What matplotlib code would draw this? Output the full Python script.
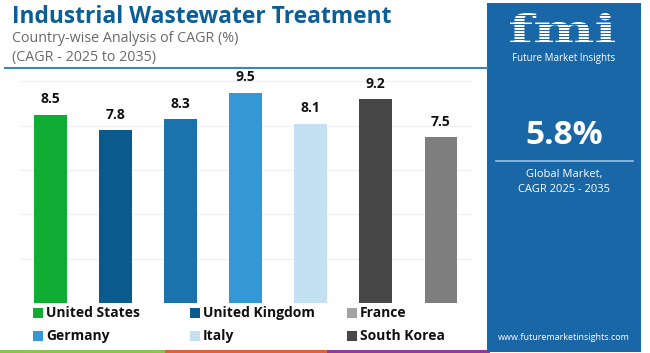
import matplotlib.pyplot as plt
from matplotlib.patches import Rectangle, PathPatch
from matplotlib.lines import Line2D
from matplotlib.textpath import TextPath
from matplotlib.font_manager import FontProperties
from matplotlib.transforms import Affine2D

plt.rcParams['font.family'] = ['Open Sans', 'DejaVu Sans']

# Data
bar_values = [8.5, 7.8, 8.3, 9.5, 8.1, 9.2, 7.5]
bar_colors = ['#10ad35', '#0b5a8e', '#1b73ad', '#3497d6', '#c3e1f3', '#474747', '#7f7f7f']
legend_names = ['United States', 'United Kingdom', 'France', 'Germany', 'Italy', 'South Korea']
legend_colors = ['#10ad35', '#0b5a8e', '#a3a3a3', '#3497d6', '#c3e1f3', '#474747']

W, H = 650, 353


def fx(px):
    return px / W


def fy(py):
    return 1 - py / H


fig = plt.figure(figsize=(6.5, 3.53), dpi=100)

# plot area
ax = fig.add_axes([fx(20), fy(303), fx(452), 232.6 / H])
x = list(range(len(bar_values)))
bars = ax.bar(x, bar_values, width=0.5, color=bar_colors, zorder=3)
for b, v in zip(bars, bar_values):
    ax.annotate(f'{v}', (b.get_x() + b.get_width() / 2, v), xytext=(0, 6),
                textcoords='offset points', ha='center', va='bottom',
                fontsize=10, fontweight='bold', color='#111111')
ax.set_xlim(-0.47, 6.48)
ax.set_ylim(0, 10.5)
ax.set_yticks([0, 2, 4, 6, 8, 10])
ax.grid(axis='y', color='#f0f0f0', linewidth=1, zorder=0)
ax.tick_params(left=False, bottom=False, labelleft=False, labelbottom=False)
for s in ax.spines.values():
    s.set_visible(False)

# legend, 3 columns, row-major, placed by hand
for i, (name, col) in enumerate(zip(legend_names, legend_colors)):
    r, c = divmod(i, 3)
    x0 = 33 + 157 * c
    yc = 313 + 23 * r
    fig.add_artist(Rectangle((fx(x0), fy(yc + 4.5)), fx(9.5), 9.5 / H, color=col, lw=0))
    fig.text(fx(x0 + 13), fy(yc), name, fontsize=10, fontweight='bold',
             color='#111111', ha='left', va='center')

# titles
fig.text(fx(12), fy(17), 'Industrial Wastewater Treatment', fontsize=16.4,
         fontweight='bold', color='#0b5f96', va='center', ha='left')
fig.text(fx(12), fy(38), 'Country-wise Analysis of CAGR (%)', fontsize=10.3,
         color='#6a6a6a', va='center', ha='left')
fig.text(fx(12), fy(57), '(CAGR - 2025 to 2035)', fontsize=10.3,
         color='#6a6a6a', va='center', ha='left')
fig.add_artist(Line2D([fx(5), fx(487)], [fy(67.5), fy(67.5)], color='#3a86b9', linewidth=1.5))

# bottom colour strip
for x0, x1, c in [(0, 165, '#8bc34a'), (165, 327, '#e0603a'), (327, 490, '#8e3a9d')]:
    fig.add_artist(Rectangle((fx(x0), 0), fx(x1 - x0), 3.5 / H, color=c, lw=0))

# right panel
fig.add_artist(Rectangle((fx(487), fy(352)), fx(154), 349 / H, color='#1a67a8', lw=0))

# striped "fmi" logo stretched into its box
tp = TextPath((0, 0), 'fmi', size=1, prop=FontProperties(family='DejaVu Serif', weight='bold'))
ext = tp.get_extents()
lx0, lx1, ltop, lbot = 510, 615, 13, 43
sx = (fx(lx1) - fx(lx0)) / ext.width
sy = (fy(ltop) - fy(lbot)) / ext.height
tr = Affine2D().translate(-ext.x0, -ext.y0).scale(sx, sy).translate(fx(lx0), fy(lbot))
fig.add_artist(PathPatch(tr.transform_path(tp), facecolor='white', lw=0,
                         transform=fig.transFigure, zorder=4))
for yy in range(15, 44, 3):
    fig.add_artist(Line2D([fx(505), fx(620)], [fy(yy), fy(yy)], color='#1a67a8',
                          linewidth=0.7, zorder=5))

fig.text(fx(564), fy(59), 'Future Market Insights', fontsize=7, color='white',
         ha='center', va='center')
fig.text(fx(564), fy(135), '5.8%', fontsize=24, fontweight='bold', color='white',
         ha='center', va='center')
fig.add_artist(Line2D([fx(496), fx(633)], [fy(161), fy(161)], color='#9cc3e3', linewidth=1.2))
fig.text(fx(564), fy(175), 'Global Market,', fontsize=8, color='white', ha='center', va='center')
fig.text(fx(564), fy(190), 'CAGR 2025 - 2035', fontsize=8, color='white', ha='center', va='center')
fig.text(fx(564), fy(337), 'www.futuremarketinsights.com', fontsize=6.5, color='white',
         ha='center', va='center')

fig.savefig('out.png', dpi=100)
